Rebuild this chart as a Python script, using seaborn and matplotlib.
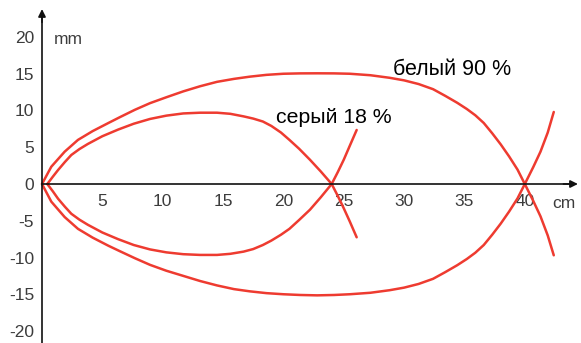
import pandas as pd
import matplotlib
matplotlib.use("Agg")
import matplotlib.pyplot as plt
import seaborn as sns

# --- data (x in cm, y in mm) ---
# "белый 90 %" curve: upper and lower branch share the x positions
white_x = [0, 0.77, 1.88, 2.98, 4.2, 5.5, 6.46, 7.7, 8.95, 10.3, 11.7, 13.1, 14.5,
           15.9, 17.2, 18.6, 20.0, 21.4, 22.8, 24.2, 25.5, 27.2, 28.8, 30.0, 31.2,
           32.4, 33.4, 34.4, 35.2, 35.9, 36.6, 37.3, 38.0, 38.7, 39.4, 40.0, 40.7,
           41.3, 41.9, 42.4]
white_up = [0, 2.35, 4.4, 6.0, 7.2, 8.3, 9.1, 10.1, 11.0, 11.8, 12.6, 13.3, 13.9,
            14.3, 14.6, 14.85, 15.0, 15.05, 15.06, 15.05, 15.0, 14.8, 14.45, 14.1, 13.6,
            12.9, 12.0, 11.05, 10.2, 9.35, 8.3, 6.9, 5.4, 3.75, 1.95, 0, -2.3,
            -4.4, -7.0, -9.7]
white_lo = [0, -2.4, -4.5, -6.1, -7.3, -8.4, -9.15, -10.1, -11.0, -11.8, -12.5, -13.2, -13.8,
            -14.3, -14.6, -14.85, -15.0, -15.1, -15.15, -15.1, -15.0, -14.8, -14.45, -14.1, -13.6,
            -12.9, -12.0, -11.05, -10.2, -9.35, -8.3, -6.9, -5.4, -3.75, -1.95, 0, 2.3,
            4.4, 7.0, 9.8]

# "серый 18 %" curve
grey_x = [0.44, 0.9, 1.33, 1.9, 2.43, 3.1, 3.8, 5.0, 6.3, 7.6, 8.95, 10.3, 11.7,
          13.1, 14.5, 15.6, 16.7, 17.5, 18.3, 19.0, 19.8, 20.5, 21.3, 22.2, 23.1,
          24.0, 24.5, 25.0, 25.5, 26.07]
grey_up = [0, 1.0, 1.9, 3.0, 3.95, 4.75, 5.45, 6.5, 7.4, 8.2, 8.85, 9.3, 9.6,
           9.7, 9.7, 9.55, 9.2, 8.9, 8.5, 7.9, 7.0, 6.0, 4.8, 3.3, 1.7,
           0, -1.6, -3.3, -5.1, -7.25]
grey_lo = [0, -1.0, -2.0, -3.1, -4.05, -4.85, -5.55, -6.6, -7.5, -8.3, -8.9, -9.3, -9.55,
           -9.65, -9.65, -9.5, -9.2, -8.85, -8.3, -7.7, -6.9, -6.1, -4.9, -3.5, -1.8,
           0, 1.6, 3.3, 5.2, 7.35]

y_ticks = [-20, -15, -10, -5, 0, 5, 10, 15, 20]
x_ticks = [5, 10, 15, 20, 25, 30, 35, 40]

label_white = "белый 90 %"
label_grey = "серый 18 %"

# long table, one "branch" per drawn line
parts = []
for name, xs, ys in [("white_up", white_x, white_up),
                     ("white_lo", white_x, white_lo),
                     ("grey_up", grey_x, grey_up),
                     ("grey_lo", grey_x, grey_lo)]:
    parts.append(pd.DataFrame({"x": xs, "y": ys, "branch": name}))
df = pd.concat(parts, ignore_index=True)

# --- style ---
sns.set_style("white")
plt.rcParams["font.family"] = ["Liberation Sans", "DejaVu Sans"]

RED = "#ee3b30"
TICK_COL = "#3c3c3c"

fig = plt.figure(figsize=(5.81, 3.43), dpi=100)
ax = fig.add_axes([0, 0, 1, 1])

sns.lineplot(data=df, x="x", y="y", units="branch", estimator=None, sort=False,
             color=RED, linewidth=1.8, ax=ax)

# pixel mapping: x=0 at px 42, 12.07 px/cm; y=0 at px 184, 7.35 px/mm
ax.set_xlim(-42 / 12.07, 539 / 12.07)
ax.set_ylim(-159 / 7.35, 184 / 7.35)

# axes through the origin
for s in ["top", "right"]:
    ax.spines[s].set_visible(False)
ax.spines["left"].set_position(("data", 0))
ax.spines["bottom"].set_position(("data", 0))
ax.spines["left"].set_bounds(-21.7, 23.0)
ax.spines["bottom"].set_bounds(0, 43.8)
for s in ["left", "bottom"]:
    ax.spines[s].set_color("#111111")
    ax.spines[s].set_linewidth(1.2)

ax.annotate("", xy=(0, 23.8), xytext=(0, 22.0),
            arrowprops=dict(arrowstyle="-|>", color="#111111", lw=1.2,
                            mutation_scale=11, shrinkA=0, shrinkB=0))
ax.annotate("", xy=(44.4, 0), xytext=(43.2, 0),
            arrowprops=dict(arrowstyle="-|>", color="#111111", lw=1.2,
                            mutation_scale=11, shrinkA=0, shrinkB=0))

ax.set_xticks(x_ticks)
ax.set_yticks(y_ticks)
ax.set_xticklabels([str(t) for t in x_ticks])
ax.set_yticklabels([str(t) for t in y_ticks])
ax.tick_params(axis="x", direction="out", length=4.5, width=0.8, pad=2.5,
               labelsize=12.5, labelcolor=TICK_COL, color="#111111")
ax.tick_params(axis="y", direction="out", length=3.6, width=0.8, pad=2,
               labelsize=12.5, labelcolor=TICK_COL, color="#111111")
ax.set_xlabel("")
ax.set_ylabel("")
ax.grid(False)

# axis unit labels
ax.text(0.94, 19.1, "mm", fontsize=12.5, color=TICK_COL, va="baseline", ha="left")
ax.text(42.3, -3.3, "cm", fontsize=12.5, color=TICK_COL, va="baseline", ha="left")

# curve labels
ax.text(29.1, 14.8, label_white, fontsize=15.5, color="black", va="baseline", ha="left")
ax.text(19.4, 8.25, label_grey, fontsize=15.3, color="black", va="baseline", ha="left")

fig.savefig("out.png", dpi=100)
plt.close(fig)
